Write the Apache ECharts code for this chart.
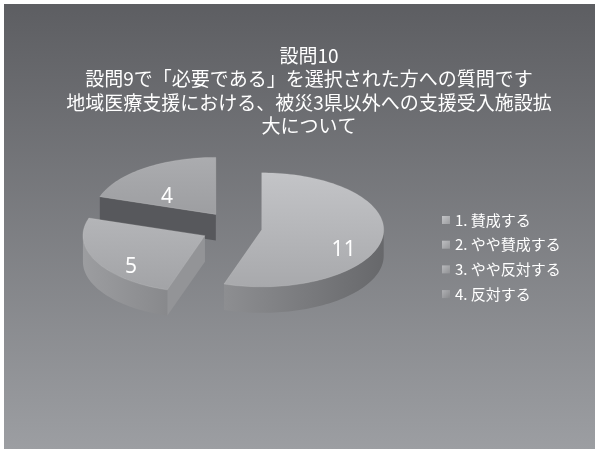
<!DOCTYPE html>
<html>
<head>
<meta charset="utf-8">
<script src="https://cdn.jsdelivr.net/npm/echarts@6/dist/echarts.min.js"></script>
<style>
  html, body { margin: 0; padding: 0; background: #ffffff; }
  #chart { width: 595px; height: 449px; }
</style>
</head>
<body>
<div id="chart"></div>
<script>
// Survey question text and answers
const titleLines = [
  '設問10',
  '設問9で「必要である」を選択された方への質問です',
  '地域医療支援における、被災3県以外への支援受入施設拡',
  '大について'
];
const categories = ['1. 賛成する', '2. やや賛成する', '3. やや反対する', '4. 反対する'];
const counts = [11, 5, 4, 0];

// Tilted-pie geometry (pixels) and per-slice pull-out distance
const PIE = { cx: 237, cy: 228, rx: 122, ry: 57, depth: 26 };
const EXPLODE = [25, 36, 36, 36];

// Grey shading for each slice: top face, curved outer wall, flat cut wall
const SHADES = [
  { top: ['#c3c4c7', '#a8a9ac'], outer: ['#8d8e91', '#67686b'], cut: '#7b7c7f', legend: ['#c4c5c8', '#9c9da0'] },
  { top: ['#b4b5b8', '#a2a3a6'], outer: ['#9c9da0', '#88898c'], cut: '#939497', legend: ['#bdbec1', '#97989b'] },
  { top: ['#abacaf', '#9d9ea1'], outer: ['#8a8b8e', '#77787b'], cut: '#57585c', legend: ['#b8b9bc', '#909194'] },
  { top: ['#a4a5a8', '#95969a'], outer: ['#828386', '#6f7073'], cut: '#5a5b5e', legend: ['#b0b1b4', '#88898c'] }
];

const total = counts.reduce((s, v) => s + v, 0);
const starts = counts.map((_, i) => counts.slice(0, i).reduce((s, v) => s + v, 0));

const TAU = Math.PI * 2;

function makeRenderer(idx) {
  return function (params, api) {
    const v = api.value(0);
    const s = api.value(1);
    const tot = api.value(2);
    if (!(v > 0) || !(tot > 0)) return null;

    const a0 = s / tot * TAU;
    const a1 = (s + v) / tot * TAU;
    const am = (a0 + a1) / 2;
    const k = PIE.ry / PIE.rx;
    const ex = EXPLODE[idx];
    const ox = PIE.cx + Math.sin(am) * ex;
    const oy = PIE.cy - Math.cos(am) * ex * k;
    const D = PIE.depth;
    const P = (a, d) => [ox + Math.sin(a) * PIE.rx, oy - Math.cos(a) * PIE.ry + (d || 0)];
    const arc = (from, to, d) => {
      const n = Math.max(2, Math.ceil(Math.abs(to - from) / 0.03));
      const pts = [];
      for (let j = 0; j <= n; j++) pts.push(P(from + (to - from) * j / n, d));
      return pts;
    };

    const sh = SHADES[idx];
    const base = Math.round(oy) * 10;
    const children = [];

    // flat cut walls that face the viewer
    if (Math.sin(a0) < -1e-6) {
      children.push({
        type: 'polygon', z2: base + 1,
        shape: { points: [[ox, oy], P(a0), P(a0, D), [ox, oy + D]] },
        style: { fill: sh.cut }
      });
    }
    if (Math.sin(a1) > 1e-6) {
      children.push({
        type: 'polygon', z2: base + 1,
        shape: { points: [[ox, oy], P(a1), P(a1, D), [ox, oy + D]] },
        style: { fill: sh.cut }
      });
    }

    // curved outer wall on the front half
    const lo = Math.max(a0, Math.PI / 2);
    const hi = Math.min(a1, Math.PI * 1.5);
    if (hi > lo) {
      const pts = arc(lo, hi, 0).concat(arc(hi, lo, D));
      children.push({
        type: 'polygon', z2: base + 2,
        shape: { points: pts },
        style: {
          fill: new echarts.graphic.LinearGradient(1, 0, 0, 0, [
            { offset: 0, color: sh.outer[1] },
            { offset: 1, color: sh.outer[0] }
          ])
        }
      });
    }

    // top face
    children.push({
      type: 'polygon', z2: base + 3,
      shape: { points: [[ox, oy]].concat(arc(a0, a1, 0)) },
      style: {
        fill: new echarts.graphic.LinearGradient(0, 0, 0, 1, [
          { offset: 0, color: sh.top[0] },
          { offset: 1, color: sh.top[1] }
        ]),
        stroke: 'rgba(210,211,214,0.35)',
        lineWidth: 0.6
      }
    });

    // value label
    children.push({
      type: 'text', z2: 100000,
      x: ox + Math.sin(am) * PIE.rx * 0.68,
      y: oy - Math.cos(am) * PIE.ry * 0.68 + 14,
      style: {
        text: String(v),
        fill: '#ffffff',
        fontSize: 21,
        fontFamily: '"Noto Sans", "Open Sans", sans-serif',
        align: 'center',
        verticalAlign: 'middle'
      }
    });

    return { type: 'group', children: children };
  };
}

const series = categories.map((name, i) => ({
  type: 'custom',
  name: name,
  coordinateSystem: 'none',
  silent: true,
  itemStyle: {
    color: new echarts.graphic.LinearGradient(0, 0, 1, 1, [
      { offset: 0, color: SHADES[i].legend[0] },
      { offset: 1, color: SHADES[i].legend[1] }
    ])
  },
  renderItem: makeRenderer(i),
  data: [[counts[i], starts[i], total]]
}));

const chart = echarts.init(document.getElementById('chart'), null, { renderer: 'canvas' });
chart.setOption({
  animation: false,
  backgroundColor: '#ffffff',
  graphic: [{
    type: 'rect', z: -10, silent: true,
    shape: { x: 4, y: 4, width: 591, height: 445 },
    style: {
      fill: new echarts.graphic.LinearGradient(0, 0, 0, 1, [
        { offset: 0, color: '#5d5e62' },
        { offset: 1, color: '#9c9ea2' }
      ])
    }
  }],
  title: {
    text: titleLines.join('\n'),
    left: 304,
    top: 39,
    textAlign: 'center',
    textStyle: {
      color: '#ffffff',
      fontSize: 19,
      fontWeight: 'normal',
      lineHeight: 23.5,
      fontFamily: '"Noto Sans CJK JP", sans-serif'
    }
  },
  legend: {
    orient: 'vertical',
    left: 437,
    top: 207,
    icon: 'rect',
    itemWidth: 8,
    itemHeight: 8,
    itemGap: 8.7,
    selectedMode: false,
    data: categories,
    textStyle: {
      color: '#ffffff',
      fontSize: 15,
      lineHeight: 16,
      fontFamily: '"Noto Sans CJK JP", sans-serif'
    }
  },
  series: series
});
</script>
</body>
</html>
